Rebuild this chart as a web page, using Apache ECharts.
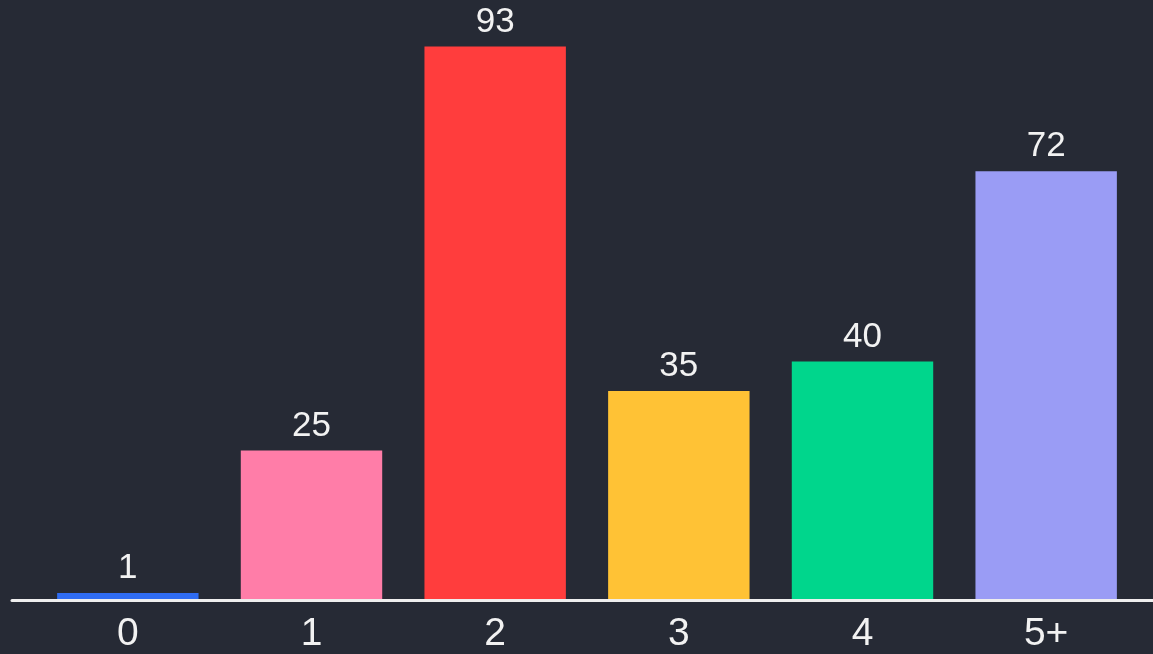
<!DOCTYPE html>
<html>
<head>
<meta charset="utf-8">
<script src="https://cdn.jsdelivr.net/npm/echarts@6/dist/echarts.min.js"></script>
<style>
html,body{margin:0;padding:0;background:#262a35;}
#main{width:1153px;height:654px;}
</style>
</head>
<body>
<div id="main"></div>
<script>
const categories = ['0', '1', '2', '3', '4', '5+'];
const values = [1, 25, 93, 35, 40, 72];
const barColors = ['#2f6cf2', '#ff7da8', '#ff3d3d', '#ffc235', '#00d68c', '#9a9cf5'];

const chart = echarts.init(document.getElementById('main'));
chart.setOption({
  backgroundColor: '#262a35',
  animation: false,
  grid: [
    {left: 36, right: 15, top: 5, bottom: 54},
    {left: 12, right: 0, top: 5, bottom: 54}
  ],
  xAxis: [
    {
      type: 'category', gridIndex: 0, data: categories,
      axisLine: {show: false}, axisTick: {show: false},
      axisLabel: {color: '#f2f2f2', fontSize: 39, fontFamily: 'Liberation Sans', margin: 16}
    },
    {
      type: 'value', gridIndex: 1, min: 0, max: 1,
      axisLine: {show: true, lineStyle: {color: '#eeeeee', width: 3}},
      axisTick: {show: false}, axisLabel: {show: false}, splitLine: {show: false}
    }
  ],
  yAxis: [
    {type: 'value', gridIndex: 0, min: 0, max: 100, show: false},
    {type: 'value', gridIndex: 1, min: 0, max: 1, show: false}
  ],
  series: [{
    type: 'bar',
    xAxisIndex: 0, yAxisIndex: 0,
    barCategoryGap: '23%',
    data: values.map((v, i) => ({value: v, itemStyle: {color: barColors[i]}})),
    label: {
      show: true, position: 'top', distance: 7,
      color: '#f2f2f2', fontSize: 35, fontFamily: 'Liberation Sans'
    }
  }]
});
</script>
</body>
</html>
